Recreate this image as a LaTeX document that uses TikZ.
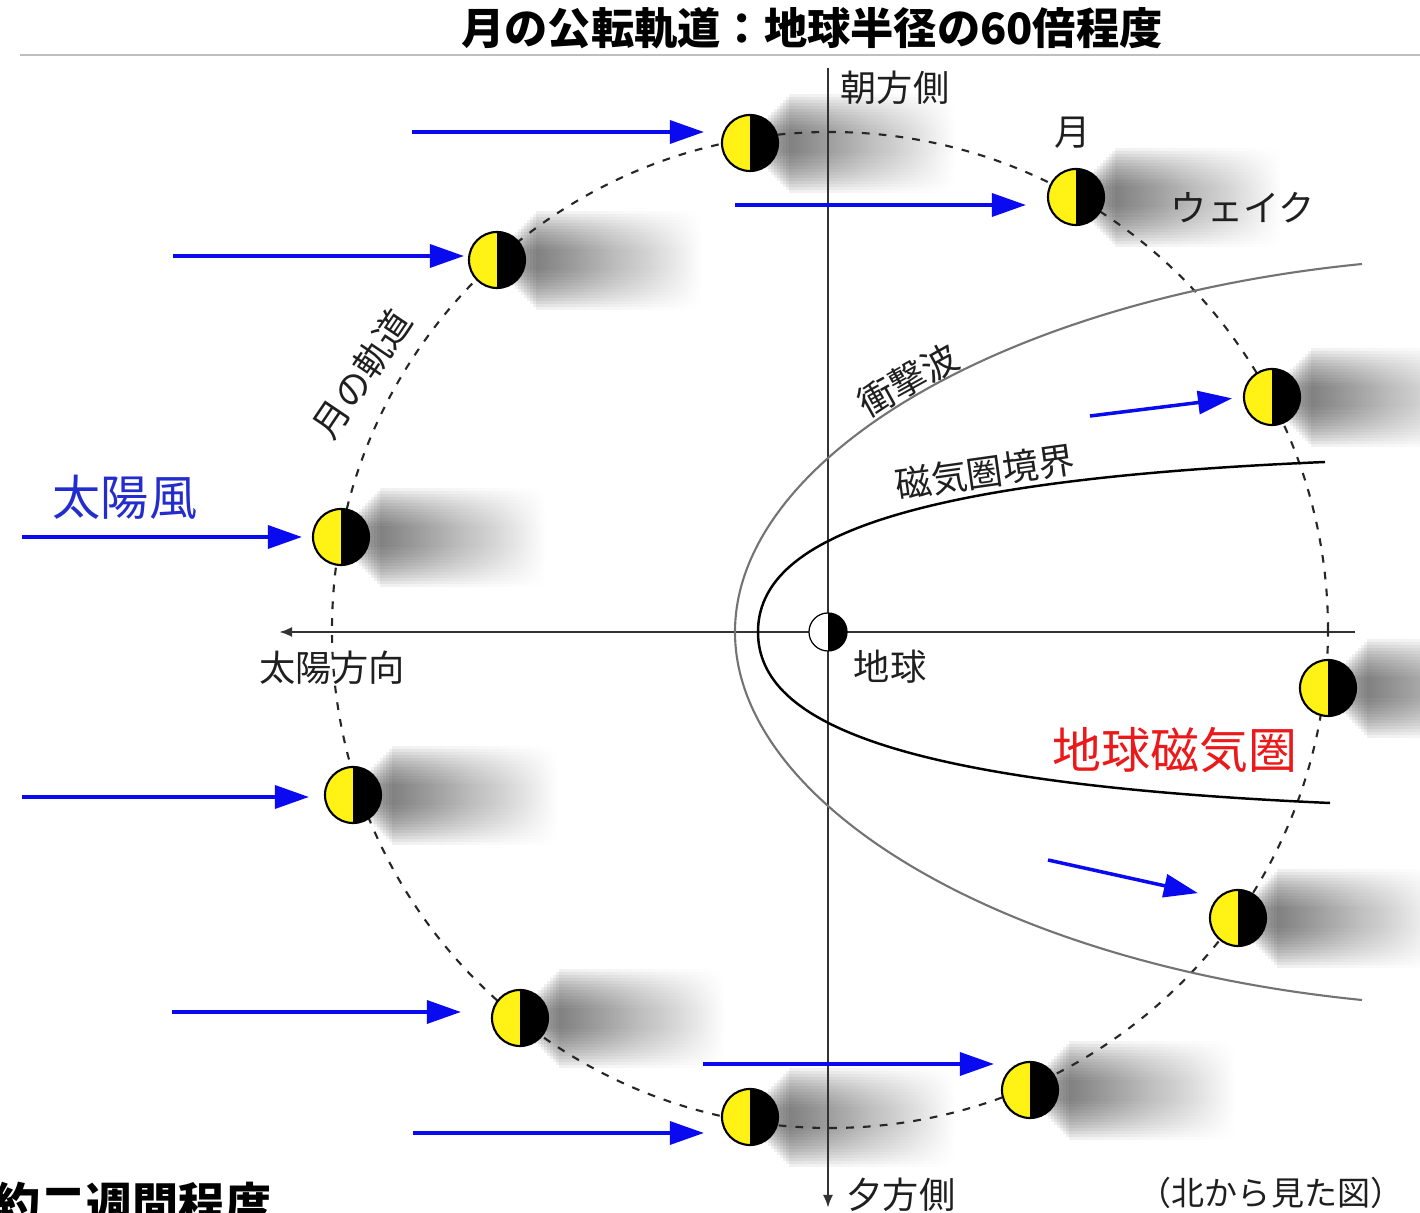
\documentclass[tikz,border=0pt]{standalone}
\usepackage{fontspec}
\newfontfamily\jp{Noto Sans CJK JP}
\usetikzlibrary{arrows.meta}

\definecolor{windblue}{RGB}{10,10,240}
\definecolor{swblue}{RGB}{35,45,205}
\definecolor{msred}{RGB}{235,25,25}
\definecolor{moonyellow}{RGB}{255,242,20}

\tikzset{
  moon/.style={circle, draw=black, line width=0.6pt, fill=moonyellow, minimum size=0.56cm, inner sep=0pt,
    path picture={\fill[black] (path picture bounding box.north) rectangle (path picture bounding box.south east);}},
  earth/.style={moon, fill=white, minimum size=0.38cm, line width=0.35pt},
  wake/.style={left color=black!80, middle color=black!55, right color=white, opacity=0.075},
  wind/.style={draw=windblue, line width=1pt, arrows={-Triangle[length=0.34cm, width=0.23cm]}},
  axis/.style={draw=black!80, line width=0.7pt, arrows={-Latex[length=0.13cm, width=0.1cm]}},
  orbit/.style={draw=black!85, line width=0.6pt, dash pattern=on 2.2pt off 2.6pt},
  txt/.style={font=\jp\fontsize{10.3pt}{12pt}\selectfont, text=black!88, inner sep=0pt},
  heading/.style={font=\jp\bfseries\fontsize{12.3pt}{14pt}\selectfont, inner sep=0pt}
}

\begin{document}
\begin{tikzpicture}[x=0.01cm, y=0.01cm]
\useasboundingbox (0,0) rectangle (1420,-1213);

% moon positions along the orbit
\foreach \i/\x/\y in {1/750/143, 2/1076/197, 3/497/260, 4/1272/397, 5/341/537, 6/1328/688,
                      7/353/795, 8/1238/918, 9/520/1018, 10/1030/1090, 11/750/1117}
  \coordinate (p\i) at (\x,-\y);

% wakes behind the moons, stacked faint bands
\foreach \i in {1,...,11}
  \foreach \k in {0,...,13}
    \shade[wake] ([xshift=\k*0.03cm, yshift=-0.1cm-\k*0.03cm]p\i) rectangle ++(205-3*\k, 20+6*\k);

\node[heading] (title) at (812,-28) {月の公転軌道：地球半径の60倍程度};
\draw[black!25, line width=0.5pt] (20,-55) -- (1420,-55);

% axes
\coordinate (dawn) at (828,-68);
\coordinate (dusk) at (828,-1208);
\coordinate (tail) at (1355,-632);
\coordinate (sunward) at (279,-632);
\draw[axis] (dawn) -- (dusk);
\draw[axis] (tail) -- (sunward);

\draw[orbit] (830,-630) circle[radius=498];

% bow shock and magnetopause
\draw[black!55, line width=0.6pt] (1362,-264) .. controls (1000,-300) and (735,-460) .. (735,-632)
  .. controls (735,-804) and (1000,-964) .. (1362,-1000);
\draw[black, line width=0.7pt] (1325,-462) .. controls (900,-480) and (758,-540) .. (758,-632)
  .. controls (758,-724) and (900,-784) .. (1330,-803);

\node[earth] (earth) at (828,-632) {};
\foreach \i in {1,...,11}
  \node[moon] (m\i) at (p\i) {};

% solar wind
\foreach \i/\x/\y/\g in {1/412/132/17, 2/735/205/21, 3/173/256/4, 5/22/537/10,
                         7/22/797/15, 9/172/1012/30, 10/703/1064/7, 11/413/1133/17} {
  \coordinate (w\i) at (\x,-\y);
  \draw[wind, shorten >=\g*0.01cm] (w\i) -- (w\i -| m\i.west);
}
\coordinate (w4) at (1090,-416);
\coordinate (w8) at (1048,-860);
\draw[wind, shorten >=0.11cm] (w4) -- (m4.west);
\draw[wind, shorten >=0.2cm] (w8) -- (m8.north west);

% labels
\node[txt] (dawnlabel) at (895,-88) {朝方側};
\node[txt] (moonlabel) at (1073,-133) {月};
\node[txt] (wakelabel) at (1243,-208) {ウェイク};
\node[txt, rotate=29] (shocklabel) at (908,-380) {衝撃波};
\node[txt, rotate=8] (mplabel) at (985,-472) {磁気圏境界};
\node[txt, rotate=56] (orbitlabel) at (362,-374) {月の軌道};
\node[txt, font=\jp\fontsize{13.7pt}{16pt}\selectfont, text=swblue] (swlabel) at (125,-497) {太陽風};
\node[txt] (sunlabel) at (332,-668) {太陽方向};
\node[txt] (earthlabel) at (890,-667) {地球};
\node[txt, font=\jp\fontsize{13.9pt}{16pt}\selectfont, text=msred] (mslabel) at (1175,-750) {地球磁気圏};
\node[txt] (dusklabel) at (901,-1195) {夕方側};
\node[txt, font=\jp\fontsize{9.4pt}{11pt}\selectfont] (viewlabel) at (1271,-1193) {（北から見た図）};
\node[heading, font=\jp\bfseries\fontsize{13.1pt}{15pt}\selectfont, anchor=west] (period) at (-6,-1204) {約二週間程度};
\end{tikzpicture}
\end{document}
